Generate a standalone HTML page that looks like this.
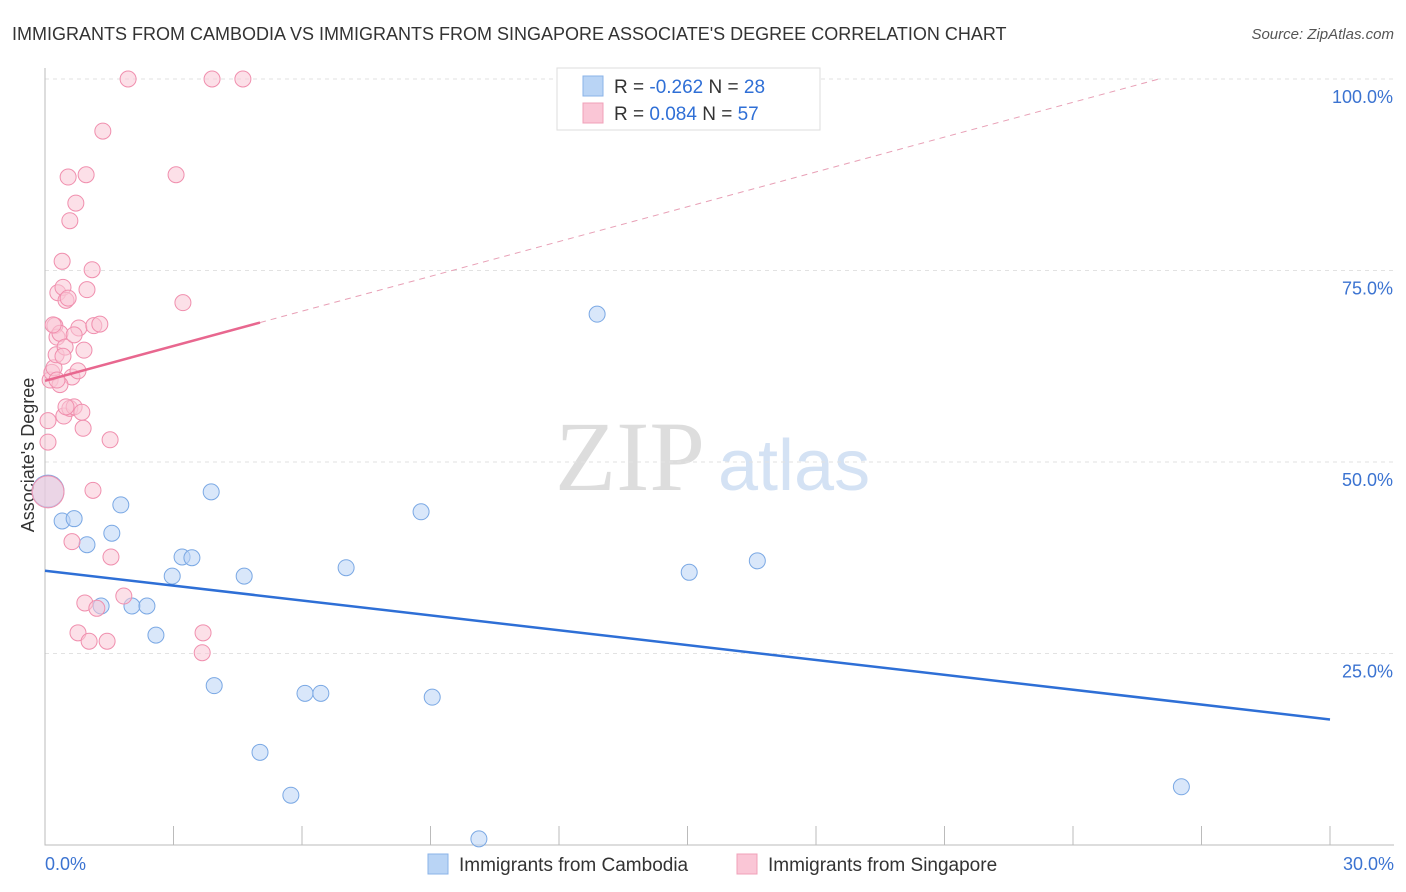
<!DOCTYPE html>
<html><head><meta charset="utf-8"><style>
body{margin:0;background:#fff;font-family:"Liberation Sans",sans-serif}
svg{display:block}
</style></head><body>
<svg id="c" width="1406" height="892">
<text x="12" y="40" font-size="18" fill="#333">IMMIGRANTS FROM CAMBODIA VS IMMIGRANTS FROM SINGAPORE ASSOCIATE'S DEGREE CORRELATION CHART</text>
<text x="1394" y="39" font-size="15" fill="#555" font-style="italic" text-anchor="end">Source: ZipAtlas.com</text>
<text x="555" y="490" font-size="100" fill="#ddd" font-family="Liberation Serif">ZIP</text>
<text x="718" y="490" font-size="72" fill="#d4e2f4">atlas</text>
<text transform="translate(34,455) rotate(-90)" font-size="18" fill="#333" text-anchor="middle">Associate's Degree</text>
<g id="grid"></g><g id="marks"></g>
<g>
<rect x="557" y="68" width="263" height="62" fill="#fff" stroke="#ddd"/>
<rect x="583" y="76" width="20" height="20" fill="#b9d4f5" stroke="#8ab3e8"/>
<rect x="583" y="103" width="20" height="20" fill="#fac6d6" stroke="#f0a0b8"/>
<text x="614" y="93" font-size="19" fill="#333">R = <tspan fill="#2f6fd6">-0.262</tspan>   N = <tspan fill="#2f6fd6">28</tspan></text>
<text x="614" y="120" font-size="19" fill="#333">R =  <tspan fill="#2f6fd6">0.084</tspan>   N = <tspan fill="#2f6fd6">57</tspan></text>
</g>
<g>
<rect x="428" y="854" width="20" height="20" fill="#b9d4f5" stroke="#8ab3e8"/>
<text x="459" y="871" font-size="19" fill="#333">Immigrants from Cambodia</text>
<rect x="737" y="854" width="20" height="20" fill="#fac6d6" stroke="#f0a0b8"/>
<text x="768" y="871" font-size="19" fill="#333">Immigrants from Singapore</text>
</g>
</svg>
<script>
const xTicks=[0,3,6,9,12,15,18,21,24,27,30];
const yTicks=[25,50,75,100];
const yTickLabels=["25.0%","50.0%","75.0%","100.0%"];
const blueX=[0.07,0.40,0.68,0.98,1.56,1.77,1.31,2.03,2.38,2.59,2.97,3.20,3.43,3.88,3.95,4.65,5.02,5.74,6.07,6.44,7.03,8.78,9.04,10.13,12.89,15.04,16.63,26.53];
const blueY=[46.2,42.3,42.6,39.2,40.7,44.4,31.2,31.2,31.2,27.4,35.1,37.6,37.5,46.1,20.8,35.1,12.1,6.5,19.8,19.8,36.2,43.5,19.3,0.8,69.3,35.6,37.1,7.6];
const pinkX=[0.07,0.07,0.07,0.12,0.16,0.21,0.23,0.28,0.30,0.35,0.40,0.42,0.44,0.49,0.54,0.58,0.58,0.63,0.63,0.68,0.72,0.77,0.79,0.86,0.89,0.91,0.93,0.96,0.98,1.03,1.10,1.12,1.14,1.21,1.28,1.35,1.45,1.52,1.54,1.84,1.94,3.06,3.22,3.67,3.69,3.90,4.62,0.49,0.26,0.35,0.47,0.77,0.68,0.28,0.42,0.19,0.54];
const pinkY=[46.1,52.6,55.4,60.7,61.7,62.3,67.8,66.3,72.1,66.8,76.2,72.8,56.0,71.1,87.2,81.5,57.0,61.1,39.6,57.2,83.8,27.7,67.5,56.5,54.4,64.6,31.6,87.5,72.5,26.6,75.1,46.3,67.8,30.9,68.0,93.2,26.6,52.9,37.6,32.5,100,87.5,70.8,25.1,27.7,100,100,57.2,64.0,60.1,65.0,61.9,66.6,60.7,63.8,67.9,71.4];
const blueTrend=[35.8,-0.647];
const pinkTrend=[60.6,1.515];
const pinkSolidEnd=5.02;
const X=v=>45+v*1285/30, Y=v=>845-v*7.66;
const NS="http://www.w3.org/2000/svg";
const g=document.getElementById('grid'), m=document.getElementById('marks');
function mk(p,tag,a){const e=document.createElementNS(NS,tag);for(const k in a)e.setAttribute(k,a[k]);p.appendChild(e);return e;}
yTicks.forEach((t,i)=>{
 const l=mk(g,'line',{x1:45,x2:1394,y1:Y(t),y2:Y(t),stroke:'#e2e2e2','stroke-dasharray':'4,4'});
 
 
 const tx=mk(g,'text',{x:1393,y:Y(t)+24,'font-size':18,fill:'#3b73d1','text-anchor':'end'});tx.textContent=yTickLabels[i];
 
 
});
const ax=mk(g,'path',{d:'M45 68V845H1394',stroke:'#bbb',fill:'none'});


xTicks.forEach(t=>{if(t==0)return;const l=mk(g,'line',{x1:X(t),x2:X(t),y1:826,y2:845,stroke:'#bbb'});
 
 });
[[0,'0.0%',45,'start'],[30,'30.0%',1394,'end']].forEach(a=>{const t=mk(g,'text',{x:a[2],y:870,'font-size':18,fill:'#3b73d1','text-anchor':a[3]});t.textContent=a[1];
 
 });
function pts(xs,ys,fill,stroke,name){xs.forEach((x,i)=>{const big=(i==0);
 const c=mk(m,'circle',{cx:X(x),cy:Y(ys[i]),r:big?16:8,fill:fill,stroke:stroke,'fill-opacity':0.55});
 
 });}
pts(blueX,blueY,'#b9d4f5','#7aa8e4','cambodia-point');
pts(pinkX,pinkY,'#fac6d6','#f08fae','singapore-point');
const bl=mk(m,'line',{x1:X(0),y1:Y(blueTrend[0]),x2:X(30),y2:Y(blueTrend[0]+30*blueTrend[1]),stroke:'#2e6fd6','stroke-width':2.5});


const pe=(100-pinkTrend[0])/pinkTrend[1];
const ps=mk(m,'line',{x1:X(0),y1:Y(pinkTrend[0]),x2:X(pinkSolidEnd),y2:Y(pinkTrend[0]+pinkSolidEnd*pinkTrend[1]),stroke:'#e8678f','stroke-width':2.5});


const pd=mk(m,'line',{x1:X(pinkSolidEnd),y1:Y(pinkTrend[0]+pinkSolidEnd*pinkTrend[1]),x2:X(pe),y2:Y(100),stroke:'#e8a0b6','stroke-width':1,'stroke-dasharray':'6,5'});


</script>
</body></html>
